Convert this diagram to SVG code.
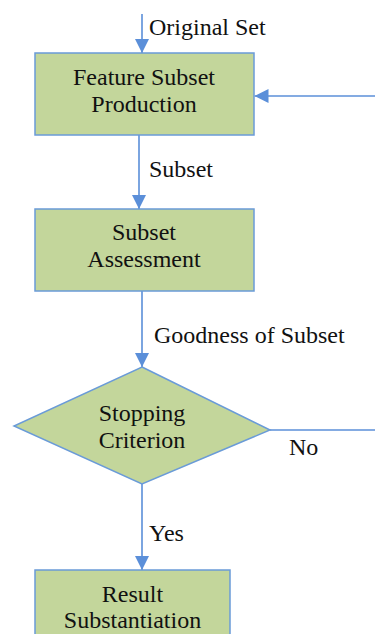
<svg xmlns="http://www.w3.org/2000/svg" width="375" height="634" viewBox="0 0 375 634">
<style>
.node{fill:#C3D69B;stroke:#6A9BD8;stroke-width:1.5}
.edge{stroke:#5B8FD9;stroke-width:1.6;fill:none}
text{font-family:'Liberation Serif','Times New Roman','DejaVu Serif',serif;font-size:24px;fill:#111}
.c{text-anchor:middle}
</style>
<defs>
<marker id="ah" markerUnits="userSpaceOnUse" markerWidth="14" markerHeight="14" viewBox="0 0 14 14" refX="14" refY="7" orient="auto">
<path d="M0,0 L14,7 L0,14 Z" fill="#5B8FD9"/>
</marker>
</defs>
<rect width="375" height="634" fill="#fff"/>
<g id="connectors">
<line class="edge" x1="142" y1="14" x2="142" y2="53" marker-end="url(#ah)"/>
<line class="edge" x1="375" y1="96" x2="254.5" y2="96" marker-end="url(#ah)"/>
<line class="edge" x1="139" y1="135" x2="139" y2="209" marker-end="url(#ah)"/>
<line class="edge" x1="142" y1="291" x2="142" y2="367" marker-end="url(#ah)"/>
<line class="edge" x1="270" y1="430" x2="375" y2="430"/>
<line class="edge" x1="142" y1="484" x2="142" y2="570" marker-end="url(#ah)"/>
<text x="149" y="35">Original Set</text>
<text x="149" y="177">Subset</text>
<text x="154" y="343">Goodness of Subset</text>
<text x="289" y="455">No</text>
<text x="149" y="541">Yes</text>
</g>
<g id="feature-subset-production">
<rect class="node" x="35" y="53" width="219" height="82"/>
<text class="c" x="144" y="85">Feature Subset</text>
<text class="c" x="144" y="112">Production</text>
</g>
<g id="subset-assessment">
<rect class="node" x="35" y="209" width="219" height="82"/>
<text class="c" x="144" y="240">Subset</text>
<text class="c" x="144" y="267">Assessment</text>
</g>
<g id="stopping-criterion">
<polygon class="node" points="142,367 270,430 142,484 14,426"/>
<text class="c" x="142" y="421">Stopping</text>
<text class="c" x="142" y="448">Criterion</text>
</g>
<g id="result-substantiation">
<rect class="node" x="35" y="570" width="195" height="80"/>
<text class="c" x="132.5" y="602">Result</text>
<text class="c" x="132.5" y="628">Substantiation</text>
</g>
</svg>
